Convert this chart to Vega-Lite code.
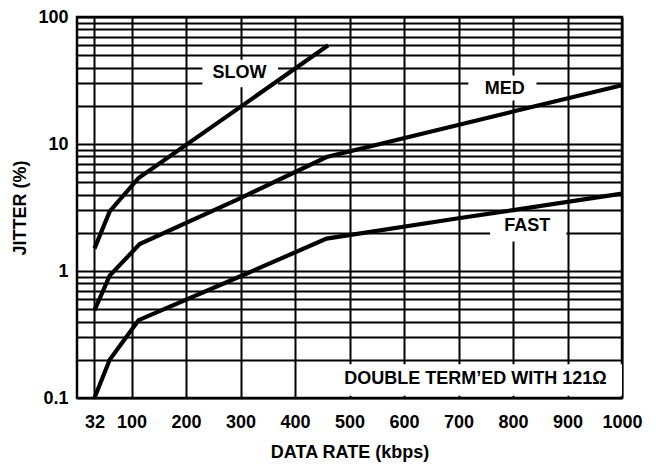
{
  "$schema": "https://vega.github.io/schema/vega-lite/v6.json",
  "width": 545,
  "height": 381,
  "autosize": "none",
  "padding": {"left": 77, "top": 17, "right": 36, "bottom": 69},
  "background": "white",
  "config": {
    "view": {"stroke": "black", "strokeWidth": 2.5},
    "font": "Liberation Sans"
  },
  "datasets": {
    "curves": [
      {"series": "SLOW", "rate": 32, "jitter": 1.5},
      {"series": "SLOW", "rate": 60, "jitter": 2.95},
      {"series": "SLOW", "rate": 113, "jitter": 5.4},
      {"series": "SLOW", "rate": 300, "jitter": 19.6},
      {"series": "SLOW", "rate": 461, "jitter": 60},
      {"series": "MED", "rate": 32, "jitter": 0.49},
      {"series": "MED", "rate": 60, "jitter": 0.92},
      {"series": "MED", "rate": 115, "jitter": 1.63},
      {"series": "MED", "rate": 300, "jitter": 3.75},
      {"series": "MED", "rate": 458, "jitter": 7.9},
      {"series": "MED", "rate": 800, "jitter": 18},
      {"series": "MED", "rate": 1000, "jitter": 29},
      {"series": "FAST", "rate": 32, "jitter": 0.1},
      {"series": "FAST", "rate": 60, "jitter": 0.2},
      {"series": "FAST", "rate": 113, "jitter": 0.41},
      {"series": "FAST", "rate": 300, "jitter": 0.91},
      {"series": "FAST", "rate": 458, "jitter": 1.8},
      {"series": "FAST", "rate": 700, "jitter": 2.6},
      {"series": "FAST", "rate": 1000, "jitter": 4.07}
    ],
    "notes": [
      {"label": "SLOW", "x1": 230, "x2": 369, "y1": 28, "y2": 46, "tx": 298, "ty": 36},
      {"label": "MED", "x1": 718, "x2": 843, "y1": 22, "y2": 34.7, "tx": 785, "ty": 27},
      {"label": "FAST", "x1": 758, "x2": 898, "y1": 1.71, "y2": 2.9, "tx": 826, "ty": 2.25},
      {"label": "DOUBLE TERM’ED WITH 121Ω", "x1": 404, "x2": 1000, "y1": 0.104, "y2": 0.184, "tx": 731, "ty": 0.141}
    ]
  },
  "layer": [
    {
      "data": {"name": "notes"},
      "mark": {"type": "rect", "fill": "white"},
      "encoding": {
        "x": {
          "field": "x1", "type": "quantitative",
          "scale": {"domain": [0, 1000], "nice": false, "zero": false},
          "axis": {
            "values": [32, 100, 200, 300, 400, 500, 600, 700, 800, 900, 1000],
            "format": "d",
            "grid": true, "gridColor": "black", "gridWidth": 2, "gridOpacity": 1,
            "domain": false, "ticks": false,
            "labelFont": "Liberation Sans", "labelFontWeight": "bold", "labelFontSize": 18,
            "labelColor": "black", "labelPadding": 15, "labelFlush": false, "labelOverlap": false,
            "title": "DATA RATE (kbps)", "titleFont": "Liberation Sans", "titleFontSize": 18,
            "titleFontWeight": "bold", "titleColor": "black", "titlePadding": 12
          }
        },
        "x2": {"field": "x2"},
        "y": {
          "field": "y1", "type": "quantitative",
          "scale": {"type": "log", "domain": [0.1, 100], "nice": false},
          "axis": {
            "values": [0.1, 0.2, 0.3, 0.4, 0.5, 0.6, 0.7, 0.8, 0.9, 1, 2, 3, 4, 5, 6, 7, 8, 9, 10, 20, 30, 40, 50, 60, 70, 80, 90, 100],
            "format": "~g",
            "labelExpr": "indexof([0.1, 1, 10, 100], datum.value) >= 0 ? datum.label : ''",
            "grid": true, "gridColor": "black", "gridWidth": 2, "gridOpacity": 1,
            "domain": false, "ticks": false,
            "labelFont": "Liberation Sans", "labelFontWeight": "bold", "labelFontSize": 18,
            "labelColor": "black", "labelPadding": 9, "labelOverlap": false, "labelFlush": false,
            "title": "JITTER (%)", "titleFont": "Liberation Sans", "titleFontSize": 18,
            "titleFontWeight": "bold", "titleColor": "black", "titlePadding": 8
          }
        },
        "y2": {"field": "y2"}
      }
    },
    {
      "data": {"name": "curves"},
      "mark": {"type": "line", "stroke": "black", "strokeWidth": 4.2},
      "encoding": {
        "x": {"field": "rate", "type": "quantitative"},
        "y": {"field": "jitter", "type": "quantitative"},
        "detail": {"field": "series"}
      }
    },
    {
      "data": {"name": "notes"},
      "mark": {"type": "text", "font": "Liberation Sans", "fontWeight": "bold", "fontSize": 18, "color": "black"},
      "encoding": {
        "x": {"field": "tx", "type": "quantitative"},
        "y": {"field": "ty", "type": "quantitative"},
        "text": {"field": "label"}
      }
    }
  ]
}
